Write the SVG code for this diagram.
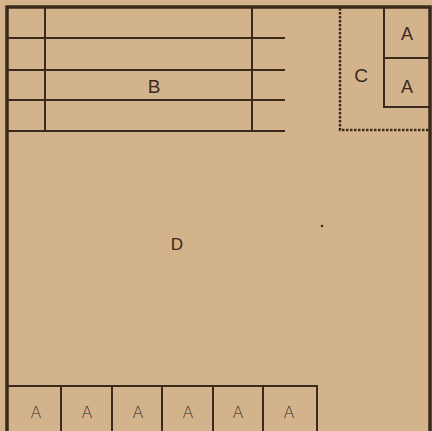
<svg xmlns="http://www.w3.org/2000/svg" width="432" height="431" viewBox="0 0 432 431">
<style>
.ln{stroke:#3b2a1c;fill:none;stroke-width:2}
.bd{stroke:#3b2a1c;fill:none;stroke-width:3.5}
.dt{stroke:#3b2a1c;fill:none;stroke-width:2.5;stroke-dasharray:2.5 1.5}
.t{font-family:"Liberation Sans Narrow","Liberation Sans",Arial,sans-serif;fill:#3b2a1c;text-anchor:middle}
.ta{font-family:"DejaVu Sans","Liberation Sans",sans-serif;font-weight:200;fill:#3b2a1c;text-anchor:middle}
</style>
<rect width="432" height="431" fill="#d3b38b"/>
<g id="frame">
<path class="bd" d="M7 431 V7 H430 V431"/>
</g>
<g id="B">
<path class="ln" d="M45 7 V131 M252 7 V131 M7 38 H285 M7 70 H285 M7 100 H285 M7 131 H285"/>
<text class="t" x="154" y="93" font-size="19">B</text>
</g>
<g id="C">
<path class="dt" d="M340 8 V130 H430"/>
<text class="t" x="361" y="82" font-size="19">C</text>
</g>
<g id="A-c1">
<path class="ln" d="M384 7 V58 H430"/>
<text class="t" x="407" y="40" font-size="18">A</text>
</g>
<g id="A-c2">
<path class="ln" d="M384 58 V107 H430"/>
<text class="t" x="407" y="93" font-size="18">A</text>
</g>
<g id="D">
<text class="t" x="177" y="250" font-size="17">D</text>
<circle cx="322" cy="226" r="1.3" fill="#3b2a1c"/>
</g>
<g id="A-row">
<path class="ln" d="M7 386 H317 V431 M61 386 V431 M112 386 V431 M162 386 V431 M213 386 V431 M263 386 V431"/>
<text class="ta" x="36" y="418" font-size="16">A</text>
<text class="ta" x="87" y="418" font-size="16">A</text>
<text class="ta" x="138" y="418" font-size="16">A</text>
<text class="ta" x="188" y="418" font-size="16">A</text>
<text class="ta" x="238" y="418" font-size="16">A</text>
<text class="ta" x="289" y="418" font-size="16">A</text>
</g>
</svg>
